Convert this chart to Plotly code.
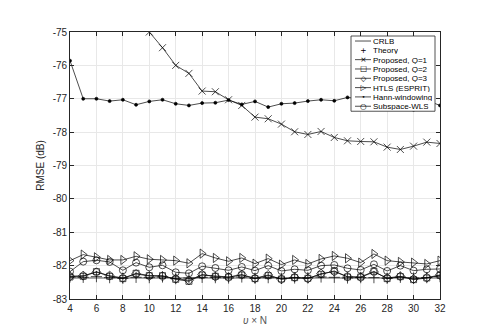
import plotly.graph_objects as go

# sample axis
x_vals = list(range(4, 33))

crlb = [-82.37, -82.37, -82.37, -82.37, -82.37, -82.37, -82.37, -82.37, -82.37, -82.37,
        -82.37, -82.37, -82.37, -82.37, -82.37, -82.37, -82.37, -82.37, -82.37, -82.37,
        -82.37, -82.37, -82.37, -82.37, -82.37, -82.37, -82.37, -82.37, -82.37]
theory = [-82.34, -82.35, -82.33, -82.36, -82.38, -82.35, -82.36, -82.34, -82.39, -82.37,
          -82.35, -82.36, -82.37, -82.34, -82.38, -82.36, -82.38, -82.37, -82.36, -82.34,
          -82.35, -82.37, -82.36, -82.36, -82.38, -82.35, -82.37, -82.36, -82.33]
q1 = [None, None, None, None, None, None, -75.0, -75.47, -76.0, -76.24,
      -76.77, -76.79, -77.03, -77.2, -77.55, -77.6, -77.76, -77.99, -78.07, -77.98,
      -78.16, -78.26, -78.28, -78.29, -78.45, -78.52, -78.42, -78.3, -78.34]
q2 = [-82.34, -82.32, -82.18, -82.32, -82.39, -82.23, -82.3, -82.3, -82.41, -82.47,
      -82.28, -82.32, -82.34, -82.28, -82.39, -82.3, -82.4, -82.36, -82.38, -82.26,
      -82.16, -82.34, -82.34, -82.17, -82.39, -82.33, -82.42, -82.37, -82.29]
q3 = [-82.32, -82.3, -82.2, -82.3, -82.37, -82.25, -82.31, -82.32, -82.39, -82.44,
      -82.27, -82.33, -82.35, -82.27, -82.38, -82.28, -82.41, -82.35, -82.39, -82.24,
      -82.18, -82.33, -82.35, -82.19, -82.37, -82.32, -82.4, -82.36, -82.28]
htls = [-81.85, -81.67, -81.75, -81.83, -81.83, -81.72, -81.81, -81.83, -81.85, -81.93,
        -81.64, -81.77, -81.87, -81.77, -81.94, -81.79, -81.97, -81.83, -81.95, -81.8,
        -81.71, -81.78, -81.91, -81.65, -81.85, -81.89, -81.91, -81.95, -81.85]
hann = [-75.86, -77.0, -77.0, -77.07, -77.03, -77.18, -77.08, -77.03, -77.15, -77.2,
        -77.13, -77.12, -77.04, -77.17, -77.08, -77.25, -77.15, -77.13, -77.07, -77.03,
        -77.06, -76.96, -77.0, -77.28, -77.18, -77.2, -77.33, -77.05, -77.2]
wls = [-82.18, -81.88, -81.84, -81.89, -82.14, -81.91, -82.05, -81.99, -82.2, -82.23,
       -82.02, -82.07, -82.14, -82.04, -82.15, -82.0, -82.16, -82.11, -82.14, -82.0,
       -81.98, -82.08, -82.13, -81.96, -82.16, -82.0, -82.15, -82.11, -82.1]

x_ticks = list(range(4, 33, 2))
y_ticks = list(range(-83, -74))

legend_names = ["CRLB", "Theory", "Proposed, Q=1", "Proposed, Q=2", "Proposed, Q=3",
                "HTLS (ESPRIT)", "Hann-windowing", "Subspace-WLS"]
legend_glyphs = ["", "+", "×", "□", "◇", "▷", "•", "○"]

FONT = "Liberation Sans, Arial, sans-serif"
INK = "#262626"

series = [
    (crlb, "lines", None, 0),
    (theory, "markers", "cross-thin-open", 8),
    (q1, "lines+markers", "x-thin-open", 7),
    (q2, "lines+markers", "square-open", 6),
    (q3, "lines+markers", "diamond-open", 7),
    (htls, "lines+markers", "triangle-right-open", 8),
    (hann, "lines+markers", "circle", 3),
    (wls, "lines+markers", "circle-open", 7),
]

fig = go.Figure()
for (vals, mode, sym, size), name in zip(series, legend_names):
    marker = dict(color="black", size=size, line=dict(color="black", width=0.7))
    if sym:
        marker["symbol"] = sym
    fig.add_trace(go.Scatter(x=x_vals, y=vals, mode=mode, name=name,
                             line=dict(color="black", width=0.7),
                             marker=marker, cliponaxis=True))

# hand-made compact legend (MATLAB style), positions in px of the plot area
def px_x(p):
    return (p - 62) / 370

def px_y(p):
    return (291 - p) / 266.5

row_top, row_step = 33.5, 9.3
shapes = [dict(type="rect", xref="paper", yref="paper",
               x0=px_x(343), x1=px_x(427), y0=px_y(row_top + 7 * row_step + 5), y1=px_y(28.5),
               fillcolor="white", line=dict(color=INK, width=0.8), layer="above")]
annotations = []
for i, (name, glyph) in enumerate(zip(legend_names, legend_glyphs)):
    yy = px_y(row_top + i * row_step)
    if name != "Theory":
        shapes.append(dict(type="line", xref="paper", yref="paper",
                           x0=px_x(347), x1=px_x(363), y0=yy, y1=yy,
                           line=dict(color="black", width=0.7), layer="above"))
    if glyph:
        annotations.append(dict(xref="paper", yref="paper", x=px_x(355), y=yy, text=glyph,
                                showarrow=False, xanchor="center", yanchor="middle",
                                width=7, height=7, borderpad=0,
                                font=dict(family="DejaVu Sans", size=7.5 if glyph != "•" else 6,
                                          color="black")))
    annotations.append(dict(xref="paper", yref="paper", x=px_x(364), y=yy, text=name,
                            showarrow=False, xanchor="left", yanchor="middle",
                            height=8, borderpad=0,
                            font=dict(family=FONT, size=8, color="black")))

axis_common = dict(showline=True, linecolor=INK, linewidth=0.8, mirror="ticks",
                   ticks="inside", ticklen=4, tickcolor=INK, tickwidth=0.8,
                   showgrid=True, gridcolor="#e8e8e8", gridwidth=0.8, zeroline=False,
                   tickfont=dict(family=FONT, size=10, color=INK))

fig.update_layout(
    width=478, height=329,
    margin=dict(l=62, r=46, t=24, b=38),
    paper_bgcolor="white", plot_bgcolor="white",
    showlegend=False,
    shapes=shapes, annotations=annotations,
    xaxis=dict(range=[4, 32], tickvals=x_ticks, ticktext=[str(t) for t in x_ticks],
               title=dict(text="<i>υ</i> × N", standoff=4,
                          font=dict(family=FONT, size=10, color="#555555")),
               **axis_common),
    yaxis=dict(range=[-83, -75], tickvals=y_ticks, ticktext=[str(t) for t in y_ticks],
               title=dict(text="RMSE (dB)", standoff=6,
                          font=dict(family=FONT, size=10, color=INK)),
               **axis_common),
)

fig.write_html("out.html")
